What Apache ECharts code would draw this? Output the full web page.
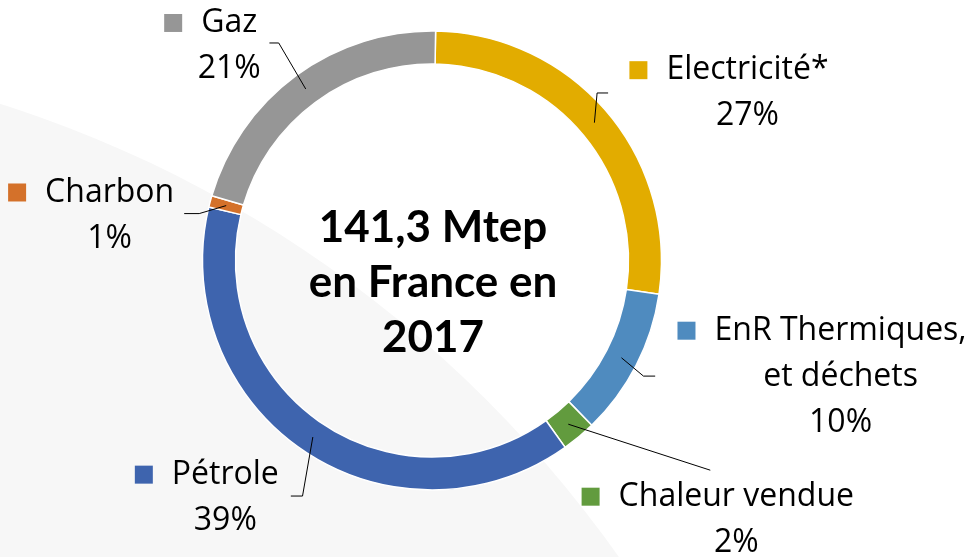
<!DOCTYPE html>
<html><head><meta charset="utf-8">
<script src="https://cdn.jsdelivr.net/npm/echarts@6/dist/echarts.min.js"></script>
<style>html,body{margin:0;padding:0;background:#fff}#c{width:971px;height:557px}</style>
</head><body><div id="c"></div>
<script>
const categories = ['Electricité*', 'EnR Thermiques, et déchets', 'Chaleur vendue', 'Pétrole', 'Charbon', 'Gaz'];
const shares = [27.1, 10.4, 2.4, 38.6, 0.8, 20.7];
const sliceColors = ['#E2AC00', '#4F8BBF', '#629B3E', '#3E64AE', '#D4712A', '#969696'];
const centerLines = ['141,3 Mtep', 'en France en', '2017'];

// leader-line geometry, offsets from the line start computed by ECharts (px)
const leaders = [
  {elbow: [2.7, -29.7], end: [13.7, -29.7], dx: 21.3, dy: 0.2, align: 'left'},
  {elbow: [22, 18.3], end: [33.7, 18.3], dx: 22.3, dy: 0.6, align: 'left'},
  {elbow: [142, 46], end: [142, 46], dx: 7.5, dy: 49.5, align: 'center'},
  {elbow: [-10.3, 59], end: [-22, 59], dx: -12, dy: 1.6, align: 'right'},
  {elbow: [-27, 8], end: [-42, 8], dx: -10, dy: 1.9, align: 'right'},
  {elbow: [-27, -46], end: [-36.3, -46], dx: -8.7, dy: 3, align: 'right'}
];

const FONT = 'Open Sans';
const FS = 32, LH = 46;
const rich = {
  n: {fontFamily: FONT, fontSize: FS, lineHeight: LH, color: '#000', padding: [0, 0, 0, 19], align: 'center'},
  q: {fontFamily: FONT, fontSize: FS, lineHeight: LH, color: '#000', padding: [0, 0, 0, 37], align: 'center'}
};
sliceColors.forEach(function (c, i) {
  rich['m' + i] = {width: 18, height: 18, backgroundColor: c, align: 'center', lineHeight: LH};
});

function fmt(p) {
  const parts = p.name.split(', ');
  let s;
  if (parts.length > 1) s = '{m' + p.dataIndex + '|}{n|' + parts[0] + ',}\n{q|' + parts[1] + '}';
  else s = '{m' + p.dataIndex + '|}{n|' + p.name + '}';
  return s + '\n{q|' + Math.round(p.percent) + '%}';
}

const chart = echarts.init(document.getElementById('c'), null, {renderer: 'canvas'});
const CENTER = [432, 260.5];
chart.setOption({
  animation: false,
  backgroundColor: '#ffffff',
  graphic: [
    {type: 'circle', z: -10, silent: true, shape: {cx: -365, cy: 1251, r: 1204}, style: {fill: '#F7F7F7'}},
    {type: 'text', z: 100, silent: true, x: 433, y: 282.5,
     style: {text: centerLines.join('\n'), fontFamily: 'Lato', fontWeight: 'bold', fontSize: 44, lineHeight: 55,
             fill: '#000', align: 'center', verticalAlign: 'middle'}}
  ],
  series: [
    {
      type: 'pie', center: CENTER, radius: [196.5, 229.5], startAngle: 89.1, clockwise: true,
      silent: true, z: 2, emphasis: {disabled: true},
      itemStyle: {borderColor: '#ffffff', borderWidth: 1.5},
      label: {show: false}, labelLine: {show: false},
      data: categories.map(function (n, i) { return {name: n, value: shares[i], itemStyle: {color: sliceColors[i]}}; })
    },
    {
      type: 'pie', center: CENTER, radius: [0, 213], startAngle: 89.1, clockwise: true,
      silent: true, z: 3, emphasis: {disabled: true}, avoidLabelOverlap: false,
      itemStyle: {color: 'rgba(0,0,0,0)', borderWidth: 0},
      label: {show: true, position: 'outside', color: '#000', formatter: fmt, rich: rich},
      labelLine: {show: true, length: 10, length2: 10, lineStyle: {color: '#000', width: 1}},
      labelLayout: function (p) {
        const g = leaders[p.dataIndex];
        const s = p.labelLinePoints[0];
        const e = [s[0] + g.end[0], s[1] + g.end[1]];
        const m = [s[0] + g.elbow[0], s[1] + g.elbow[1]];
        return {x: e[0] + g.dx, y: e[1] + g.dy, align: g.align, verticalAlign: 'middle',
                labelLinePoints: [s, m, e]};
      },
      data: categories.map(function (n, i) { return {name: n, value: shares[i]}; })
    }
  ]
});
</script></body></html>
